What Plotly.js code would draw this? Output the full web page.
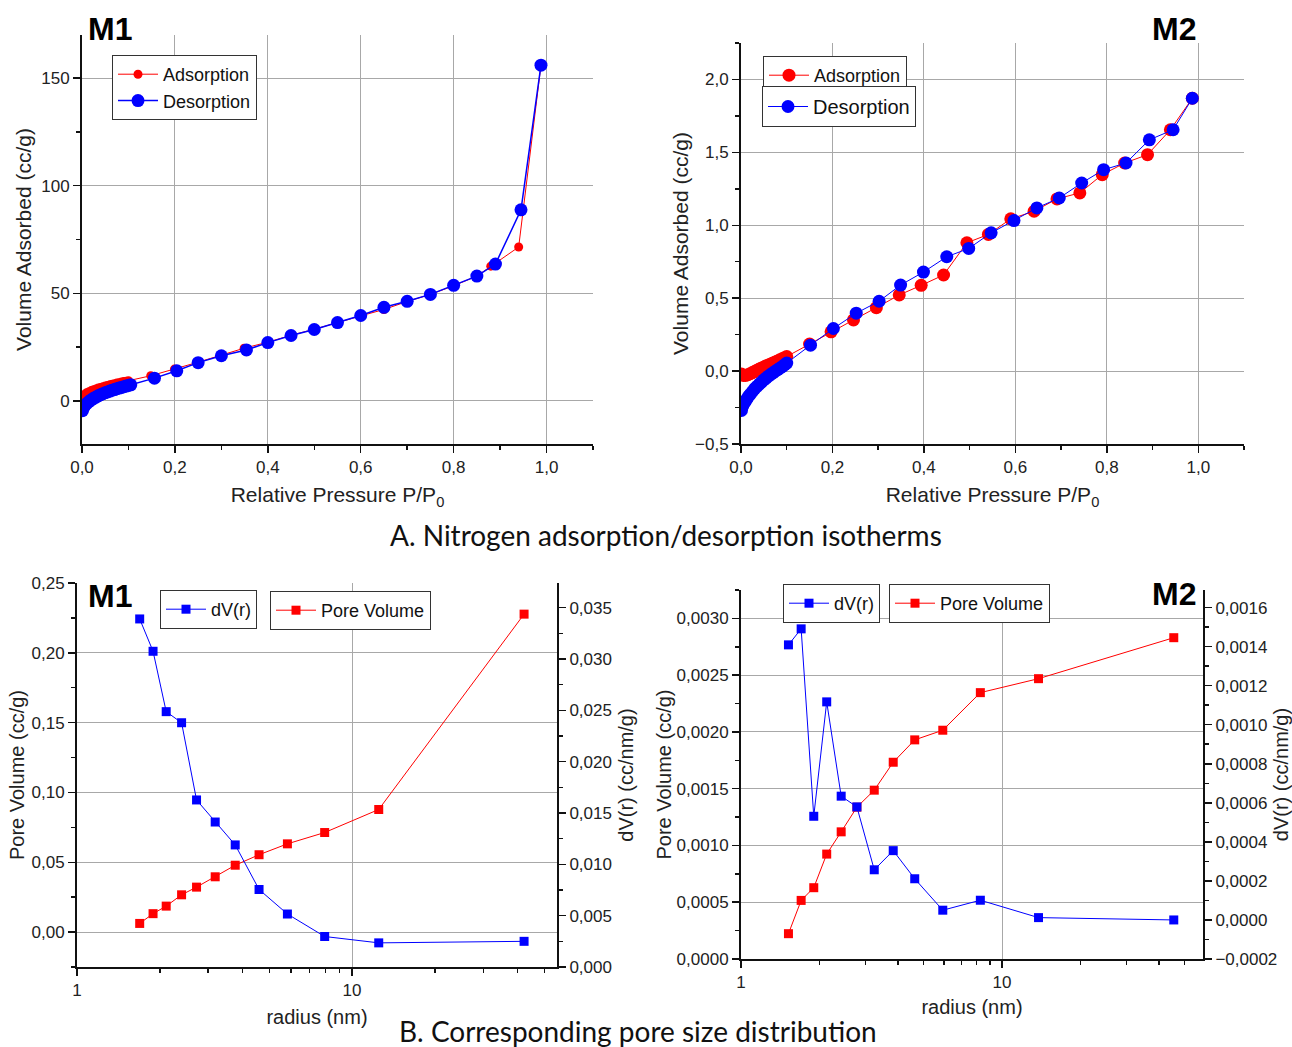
<!DOCTYPE html>
<html>
<head>
<meta charset="utf-8">
<script src="https://cdn.plot.ly/plotly-3.0.1.min.js"></script>
<style>html,body{margin:0;padding:0;background:#fff;}#chart{width:1292px;height:1047px;}</style>
</head>
<body>
<div id="chart"></div>
<script>
// ---------- Data: M1 isotherm ----------
const m1AdsP = [0.001,0.005,0.01,0.015,0.02,0.025,0.03,0.035,0.04,0.045,0.05,0.055,0.06,0.065,0.07,0.075,0.08,0.085,0.09,0.095,0.1,0.148,0.199,0.25,0.3,0.349,0.4,0.45,0.5,0.55,0.6,0.65,0.7,0.75,0.8,0.85,0.88,0.94,0.988];
const m1AdsV = [1.5,3.0,3.8,4.3,4.8,5.2,5.6,6.0,6.3,6.6,6.9,7.2,7.5,7.8,8.0,8.3,8.5,8.8,9.0,9.2,9.4,11.7,14.8,18.0,21.3,24.5,27.3,30.5,33.3,36.5,39.5,42.5,46.2,49.5,53.5,58.0,62.6,71.5,156];
const m1DesP = [0.001,0.003,0.006,0.01,0.015,0.02,0.025,0.03,0.035,0.04,0.045,0.05,0.055,0.06,0.065,0.07,0.075,0.08,0.085,0.09,0.095,0.1,0.105,0.156,0.204,0.25,0.3,0.354,0.4,0.45,0.5,0.55,0.6,0.65,0.7,0.75,0.8,0.85,0.89,0.945,0.988];
const m1DesV = [-4.5,-3.2,-2.2,-1.2,-0.3,0.5,1.2,1.8,2.4,2.9,3.4,3.8,4.2,4.6,5.0,5.3,5.7,6.0,6.3,6.6,6.9,7.2,7.5,10.6,14.0,17.8,21.0,23.7,27.1,30.4,33.2,36.4,39.7,43.5,46.3,49.5,53.7,58.0,63.6,88.8,156];

// ---------- Data: M2 isotherm ----------
const m2AdsP = [0.001,0.005,0.01,0.015,0.02,0.025,0.03,0.035,0.04,0.045,0.05,0.055,0.06,0.065,0.07,0.075,0.08,0.085,0.09,0.095,0.1,0.15,0.197,0.246,0.296,0.346,0.394,0.443,0.494,0.541,0.59,0.641,0.691,0.741,0.79,0.839,0.889,0.939,0.987];
const m2AdsV = [-0.02,-0.03,-0.03,-0.025,-0.018,-0.01,-0.002,0.006,0.014,0.021,0.028,0.035,0.042,0.049,0.056,0.063,0.07,0.077,0.084,0.092,0.1,0.185,0.269,0.351,0.435,0.522,0.588,0.659,0.88,0.937,1.044,1.096,1.181,1.222,1.347,1.427,1.484,1.655,1.871];
const m2DesP = [0.001,0.004,0.008,0.012,0.016,0.02,0.025,0.03,0.035,0.04,0.045,0.05,0.055,0.06,0.065,0.07,0.075,0.08,0.085,0.09,0.095,0.1,0.152,0.202,0.252,0.302,0.349,0.399,0.45,0.498,0.547,0.597,0.647,0.696,0.745,0.793,0.842,0.893,0.945,0.987];
const m2DesV = [-0.27,-0.24,-0.215,-0.195,-0.175,-0.16,-0.14,-0.12,-0.105,-0.09,-0.075,-0.06,-0.048,-0.035,-0.023,-0.012,-0.001,0.01,0.02,0.03,0.042,0.055,0.178,0.292,0.397,0.479,0.59,0.679,0.784,0.841,0.948,1.032,1.119,1.187,1.29,1.381,1.427,1.586,1.655,1.871];

// ---------- Data: pore size distribution ----------
const m1Radius = [1.69,1.89,2.11,2.40,2.72,3.18,3.76,4.59,5.82,7.95,12.5,42.2];
const m1PoreVol = [0.0062,0.0132,0.0186,0.0267,0.0322,0.0396,0.0479,0.0554,0.0632,0.0713,0.0878,0.2277];
const m1dV = [0.0339,0.03075,0.02487,0.02379,0.01627,0.01412,0.01189,0.00755,0.00516,0.00297,0.00235,0.0025];

const m2Radius = [1.52,1.70,1.90,2.13,2.42,2.78,3.24,3.83,4.63,5.93,8.26,13.8,45.5];
const m2PoreVol = [0.000223,0.000516,0.000628,0.000924,0.00112,0.001337,0.001487,0.001733,0.00193,0.002015,0.002346,0.002469,0.00283];
const m2dV = [0.001409,0.001491,0.000531,0.001117,0.000634,0.000579,0.000257,0.000355,0.000211,0.00005,0.000101,0.000012,0.0];

// ---------- Text ----------
const titleA = 'A. Nitrogen adsorption/desorption isotherms';
const titleB = 'B. Corresponding pore size distribution';

const RED = '#ff0000', BLUE = '#0000ff';
const W = 1292, H = 1047;
const px = v => v / W;
const py = v => 1 - v / H;
const AX = 'Liberation Sans, Arial, sans-serif';

const traces = [
  {x: m1AdsP, y: m1AdsV, xaxis: 'x', yaxis: 'y', name: 'Adsorption', mode: 'lines+markers', legend: 'legend',
   line: {color: RED, width: 1}, marker: {color: RED, size: 9, symbol: 'circle'}},
  {x: m1DesP, y: m1DesV, xaxis: 'x', yaxis: 'y', name: 'Desorption', mode: 'lines+markers', legend: 'legend',
   line: {color: BLUE, width: 1.5}, marker: {color: BLUE, size: 13, symbol: 'circle'}},
  {x: m2AdsP, y: m2AdsV, xaxis: 'x2', yaxis: 'y2', name: 'Adsorption', mode: 'lines+markers', legend: 'legend2',
   line: {color: RED, width: 1}, marker: {color: RED, size: 13, symbol: 'circle'}},
  {x: m2DesP, y: m2DesV, xaxis: 'x2', yaxis: 'y2', name: 'Desorption', mode: 'lines+markers', legend: 'legend3',
   line: {color: BLUE, width: 1}, marker: {color: BLUE, size: 13, symbol: 'circle'}},
  {x: m1Radius, y: m1dV, xaxis: 'x3', yaxis: 'y4', name: 'dV(r)', mode: 'lines+markers', legend: 'legend4',
   line: {color: BLUE, width: 1}, marker: {color: BLUE, size: 9, symbol: 'square'}},
  {x: m1Radius, y: m1PoreVol, xaxis: 'x3', yaxis: 'y3', name: 'Pore Volume', mode: 'lines+markers', legend: 'legend5',
   line: {color: RED, width: 1}, marker: {color: RED, size: 9, symbol: 'square'}},
  {x: m2Radius, y: m2dV, xaxis: 'x4', yaxis: 'y6', name: 'dV(r)', mode: 'lines+markers', legend: 'legend6',
   line: {color: BLUE, width: 1}, marker: {color: BLUE, size: 9, symbol: 'square'}},
  {x: m2Radius, y: m2PoreVol, xaxis: 'x4', yaxis: 'y5', name: 'Pore Volume', mode: 'lines+markers', legend: 'legend7',
   line: {color: RED, width: 1}, marker: {color: RED, size: 9, symbol: 'square'}}
];

const tickFont = {family: AX, size: 17, color: '#222'};
const titleFont = {family: AX, size: 21, color: '#222'};
const titleFontB = {family: AX, size: 20, color: '#222'};
const base = {
  showline: true, linecolor: '#111', linewidth: 2, mirror: false,
  ticks: 'outside', ticklen: 7, tickwidth: 1.5, tickcolor: '#111',
  showgrid: true, gridcolor: '#a8a8a8', gridwidth: 1,
  zeroline: false, tickfont: tickFont, automargin: false
};
function ax(o) { return Object.assign({}, base, o); }
const minor = (d) => ({dtick: d, ticks: 'outside', ticklen: 4, tickcolor: '#111', showgrid: false});

function legendBox(x, y, size) {
  return {x: px(x), y: py(y), xanchor: 'left', yanchor: 'top', bgcolor: '#fff',
    bordercolor: '#333', borderwidth: 1, font: {family: AX, size: size, color: '#111'},
    tracegroupgap: 0, itemwidth: 40};
}

const layout = {
  width: W, height: H, margin: {l: 0, r: 0, t: 0, b: 0},
  paper_bgcolor: '#fff', plot_bgcolor: '#fff', separators: ',.', showlegend: true,
  xaxis: ax({domain: [px(82), px(593)], range: [0, 1.1], dtick: 0.2, tickformat: '.1f', anchor: 'y',
    minor: minor(0.1),
    title: {text: 'Relative Pressure P/P<sub>0</sub>', font: titleFont, standoff: 11}}),
  yaxis: ax({domain: [py(444), py(35)], range: [-20, 170], dtick: 50, anchor: 'x', minor: minor(25),
    title: {text: 'Volume Adsorbed (cc/g)', font: titleFont, standoff: 4}}),
  xaxis2: ax({domain: [px(741), px(1244)], range: [0, 1.1], dtick: 0.2, tickformat: '.1f', anchor: 'y2',
    minor: minor(0.1),
    title: {text: 'Relative Pressure P/P<sub>0</sub>', font: titleFont, standoff: 11}}),
  yaxis2: ax({domain: [py(444), py(43)], range: [-0.5, 2.25], dtick: 0.5, tickformat: '.1f', anchor: 'x2',
    minor: minor(0.25),
    title: {text: 'Volume Adsorbed (cc/g)', font: titleFont, standoff: 1}}),
  xaxis3: ax({domain: [px(77), px(557)], type: 'log', range: [0, 1.745], dtick: 1, anchor: 'y3',
    minor: {ticks: 'outside', ticklen: 4, tickcolor: '#111', showgrid: false},
    title: {text: 'radius (nm)', font: titleFontB, standoff: 11}}),
  yaxis3: ax({domain: [py(967), py(583)], range: [-0.025, 0.25], dtick: 0.05, tickformat: '.2f', anchor: 'x3',
    minor: minor(0.025),
    title: {text: 'Pore Volume (cc/g)', font: titleFontB, standoff: 2}}),
  yaxis4: ax({domain: [py(967), py(583)], range: [0, 0.0374], dtick: 0.005, tickformat: '.3f', anchor: 'x3',
    overlaying: 'y3', side: 'right', showgrid: false, minor: minor(0.0025),
    title: {text: 'dV(r) (cc/nm/g)', font: titleFontB, standoff: 8}}),
  xaxis4: ax({domain: [px(741), px(1203)], type: 'log', range: [0, 1.77], dtick: 1, anchor: 'y5',
    minor: {ticks: 'outside', ticklen: 4, tickcolor: '#111', showgrid: false},
    title: {text: 'radius (nm)', font: titleFontB, standoff: 9}}),
  yaxis5: ax({domain: [py(959), py(590)], range: [0, 0.00325], dtick: 0.0005, tickformat: '.4f', anchor: 'x4',
    minor: minor(0.00025),
    title: {text: 'Pore Volume (cc/g)', font: titleFontB, standoff: 0}}),
  yaxis6: ax({domain: [py(959), py(590)], range: [-0.0002, 0.00169], dtick: 0.0002, tickformat: '.4f', anchor: 'x4',
    overlaying: 'y5', side: 'right', showgrid: false, minor: minor(0.0001),
    title: {text: 'dV(r) (cc/nm/g)', font: titleFontB, standoff: 6}}),
  legend: legendBox(112, 55, 18),
  legend2: legendBox(763, 56, 18),
  legend3: legendBox(762, 86, 20),
  legend4: legendBox(160, 590, 18),
  legend5: legendBox(270, 591, 18),
  legend6: legendBox(783, 584, 18),
  legend7: legendBox(889, 584, 18),
  annotations: [
    {text: '<b>M1</b>', x: px(110), y: py(29), xref: 'paper', yref: 'paper', showarrow: false,
     xanchor: 'center', yanchor: 'middle', font: {family: AX, size: 32, color: '#000'}},
    {text: '<b>M2</b>', x: px(1174), y: py(29), xref: 'paper', yref: 'paper', showarrow: false,
     xanchor: 'center', yanchor: 'middle', font: {family: AX, size: 32, color: '#000'}},
    {text: '<b>M1</b>', x: px(110), y: py(596), xref: 'paper', yref: 'paper', showarrow: false,
     xanchor: 'center', yanchor: 'middle', font: {family: AX, size: 32, color: '#000'}},
    {text: '<b>M2</b>', x: px(1174), y: py(594), xref: 'paper', yref: 'paper', showarrow: false,
     xanchor: 'center', yanchor: 'middle', font: {family: AX, size: 32, color: '#000'}},
    {text: titleA, x: px(666), y: py(535), xref: 'paper', yref: 'paper', showarrow: false,
     xanchor: 'center', yanchor: 'middle', font: {family: 'Lato, Open Sans, sans-serif', size: 28, color: '#111'}},
    {text: titleB, x: px(638), y: py(1031), xref: 'paper', yref: 'paper', showarrow: false,
     xanchor: 'center', yanchor: 'middle', font: {family: 'Lato, Open Sans, sans-serif', size: 28, color: '#111'}}
  ]
};

Plotly.newPlot('chart', traces, layout, {displayModeBar: false, staticPlot: true});
</script>
</body>
</html>
